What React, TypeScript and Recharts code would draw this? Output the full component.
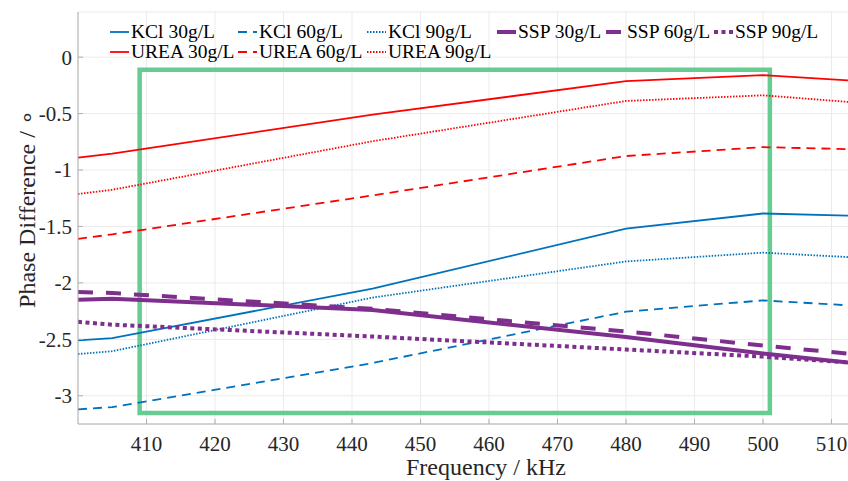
import React from 'react';
import {
  LineChart,
  Line,
  XAxis,
  YAxis,
  CartesianGrid,
  ReferenceArea,
  Legend,
} from 'recharts';

// frequency points (kHz)
const frequencies = [400, 405, 443, 480, 500, 520];

// phase difference (degrees) per sample
const kcl30 = [-2.51, -2.49, -2.05, -1.52, -1.385, -1.415];
const kcl60 = [-3.12, -3.1, -2.71, -2.255, -2.155, -2.225];
const kcl90 = [-2.63, -2.605, -2.13, -1.81, -1.732, -1.795];
const ssp30 = [-2.15, -2.14, -2.24, -2.48, -2.625, -2.755];
const ssp60 = [-2.08, -2.09, -2.23, -2.43, -2.555, -2.67];
const ssp90 = [-2.345, -2.37, -2.475, -2.59, -2.653, -2.737];
const urea30 = [-0.89, -0.855, -0.51, -0.212, -0.16, -0.233];
const urea60 = [-1.61, -1.57, -1.225, -0.876, -0.797, -0.826];
const urea90 = [-1.212, -1.175, -0.745, -0.388, -0.338, -0.432];

const xTicks = [410, 420, 430, 440, 450, 460, 470, 480, 490, 500, 510];
const yTicks = [0, -0.5, -1, -1.5, -2, -2.5, -3];

// highlighted band (green frame)
const boxFreq = [409, 501];
const boxPhase = [-3.153, -0.112];

const BLUE = '#0072BD';
const RED = '#FF0000';
const PURPLE = '#7E2F8E';
const GREEN = '#66CC91';
const AXIS = '#B0B0B0';
const GRID = '#EBEBEB';
const TEXT = '#262626';
const FONT = 'Liberation Serif, Times New Roman, serif';

const series = [
  { key: 'kcl30', name: 'KCl 30g/L', values: kcl30, color: BLUE, width: 1.8, dash: undefined },
  { key: 'kcl60', name: 'KCl 60g/L', values: kcl60, color: BLUE, width: 1.8, dash: '9 6' },
  { key: 'kcl90', name: 'KCl 90g/L', values: kcl90, color: BLUE, width: 1.8, dash: '1.5 1.5' },
  { key: 'ssp30', name: 'SSP 30g/L', values: ssp30, color: PURPLE, width: 4, dash: undefined },
  { key: 'ssp60', name: 'SSP 60g/L', values: ssp60, color: PURPLE, width: 4, dash: '15 13' },
  { key: 'ssp90', name: 'SSP 90g/L', values: ssp90, color: PURPLE, width: 4, dash: '4 3.5' },
  { key: 'urea30', name: 'UREA 30g/L', values: urea30, color: RED, width: 1.8, dash: undefined },
  { key: 'urea60', name: 'UREA 60g/L', values: urea60, color: RED, width: 1.8, dash: '9 6' },
  { key: 'urea90', name: 'UREA 90g/L', values: urea90, color: RED, width: 1.8, dash: '1.5 1.5' },
];

const data = frequencies.map((f, i) => {
  const row: Record<string, number> = { freq: f };
  series.forEach((s) => {
    row[s.key] = s.values[i];
  });
  return row;
});

// legend column starts, 6 entries per row like the matlab legend
const legendCols = [110, 238, 367, 497, 606, 714];
const legendRows = [31.5, 51.5];

const LegendBlock = () => (
  <div style={{ position: 'relative', width: 848, height: 70, fontFamily: FONT, fontSize: 19.5, color: '#000' }}>
    {series.map((s, i) => {
      const col = i % 6;
      const row = Math.floor(i / 6);
      return (
        <div
          key={s.key}
          style={{
            position: 'absolute',
            left: legendCols[col],
            top: legendRows[row] - 11,
            height: 22,
            display: 'flex',
            alignItems: 'center',
            whiteSpace: 'nowrap',
          }}
        >
          <svg width={20} height={10} style={{ marginRight: 1 }}>
            <line x1={0} y1={5} x2={19} y2={5} stroke={s.color} strokeWidth={s.width} strokeDasharray={s.dash} />
          </svg>
          <span>{s.name}</span>
        </div>
      );
    })}
  </div>
);

const YTitle = (props: any) => {
  const { viewBox } = props;
  const cx = 27;
  const cy = viewBox.y + viewBox.height / 2 - 9;
  return (
    <text
      x={cx}
      y={cy}
      transform={`rotate(-90 ${cx} ${cy})`}
      textAnchor="middle"
      dominantBaseline="central"
      style={{ fontFamily: FONT, fontSize: 24, fill: TEXT }}
    >
      Phase Difference / ∘
    </text>
  );
};

const XTitle = (props: any) => {
  const { viewBox } = props;
  const cx = viewBox.x + viewBox.width / 2 - 3;
  return (
    <text x={cx} y={475} textAnchor="middle" style={{ fontFamily: FONT, fontSize: 24, fill: TEXT }}>
      Frequency / kHz
    </text>
  );
};

const tickStyle = { fontSize: 21, fill: TEXT, style: { fontFamily: FONT } };

export default function App() {
  return (
    <div
      style={{
        position: 'absolute',
        left: 0,
        top: 0,
        width: 848,
        height: 481,
        overflow: 'hidden',
        background: '#fff',
        fontFamily: FONT,
      }}
    >
      <LineChart
        width={910}
        height={481}
        data={data}
        margin={{ top: 12, right: 10, bottom: 0, left: 0 }}
        style={{ fontFamily: FONT }}
      >
        <CartesianGrid stroke={GRID} strokeWidth={1} />
        <XAxis
          dataKey="freq"
          type="number"
          domain={[400, 520]}
          ticks={xTicks}
          allowDataOverflow
          height={57}
          stroke={AXIS}
          tickLine={{ stroke: AXIS }}
          tickSize={-5}
          tickMargin={17}
          tick={tickStyle}
          label={<XTitle />}
        />
        {/* top frame with inward ticks, matlab box style */}
        <XAxis
          xAxisId="top"
          orientation="top"
          dataKey="freq"
          type="number"
          domain={[400, 520]}
          ticks={xTicks}
          allowDataOverflow
          height={0}
          stroke={AXIS}
          tickLine={{ stroke: AXIS }}
          tickSize={-5}
          tick={false}
        />
        <YAxis
          type="number"
          domain={[-3.25, 0.4]}
          ticks={yTicks}
          allowDataOverflow
          width={78}
          stroke={AXIS}
          tickLine={{ stroke: AXIS }}
          tickSize={-5}
          tickMargin={11}
          tick={tickStyle}
          tickFormatter={(v) => String(v)}
          label={<YTitle />}
        />
        {series.map((s) => (
          <Line
            key={s.key}
            dataKey={s.key}
            name={s.name}
            type="linear"
            stroke={s.color}
            strokeWidth={s.width}
            strokeDasharray={s.dash}
            strokeLinecap="butt"
            dot={false}
            activeDot={false}
            isAnimationActive={false}
          />
        ))}
        <ReferenceArea
          x1={boxFreq[0]}
          x2={boxFreq[1]}
          y1={boxPhase[0]}
          y2={boxPhase[1]}
          fill="none"
          stroke={GREEN}
          strokeWidth={4.5}
          ifOverflow="visible"
        />
        <Legend
          layout="horizontal"
          verticalAlign="middle"
          align="center"
          wrapperStyle={{ top: 0, left: 0, width: 848, height: 70 }}
          content={() => <LegendBlock />}
        />
      </LineChart>
    </div>
  );
}
